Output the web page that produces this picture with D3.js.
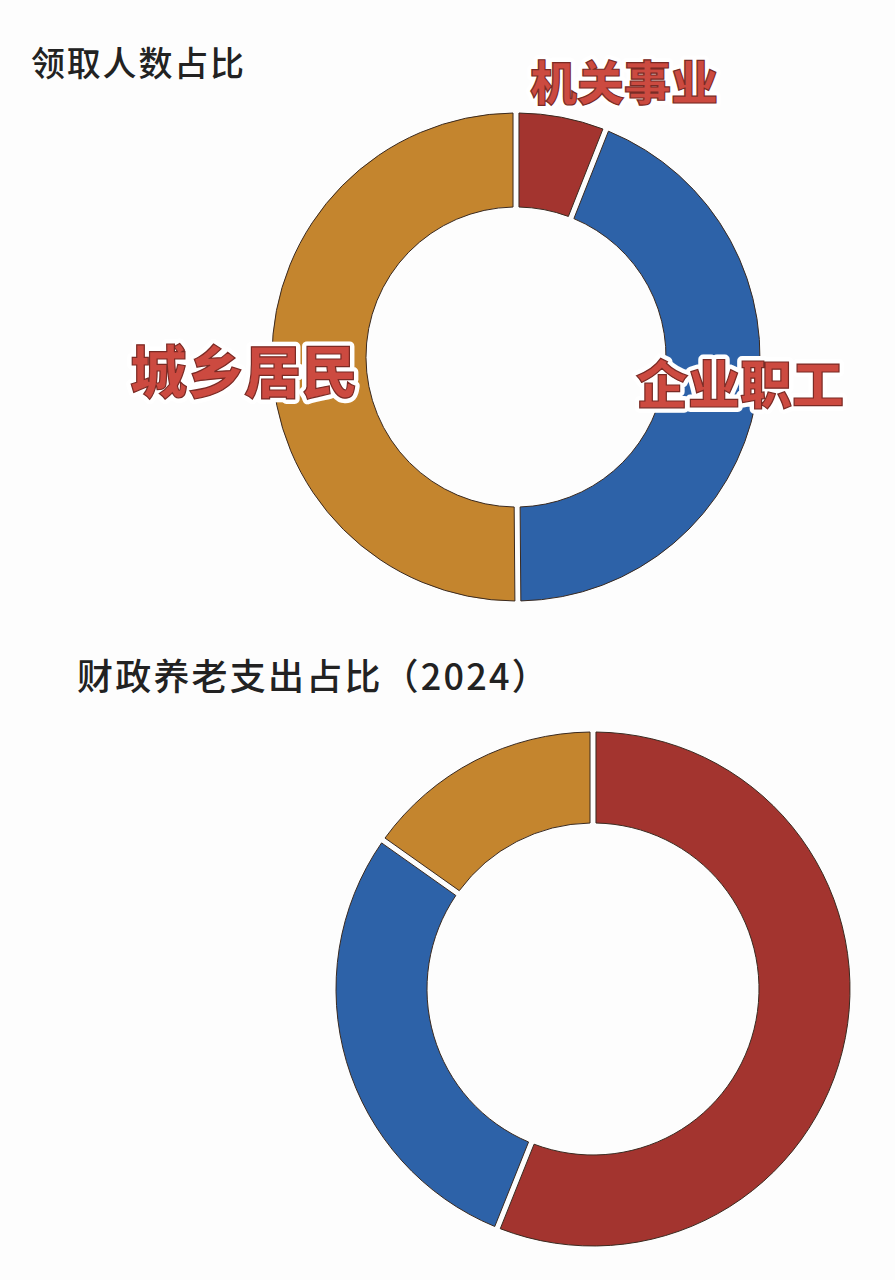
<!DOCTYPE html>
<html><head><meta charset="utf-8">
<script src="https://cdn.jsdelivr.net/npm/d3@7"></script>
<style>html,body{margin:0;padding:0;background:#fdfdfd;}svg{display:block;}</style>
</head><body>
<script>
const categories = ["机关事业", "企业职工", "城乡居民"];
const peopleShare = [5.7, 44.0, 50.3];          // 领取人数占比 (%)
const fiscalShare = [56.3, 28.7, 15.0];         // 财政养老支出占比 2024 (%)
const colors = ["#a3342f", "#2d62a8", "#c4852e"];
const titles = ["领取人数占比", "财政养老支出占比（2024）"];

const W = 895, H = 1280;
const svg = d3.select("body").append("svg").attr("width", W).attr("height", H);
svg.append("rect").attr("width", W).attr("height", H).attr("fill", "#fdfdfd");

const color = d3.scaleOrdinal().domain(categories).range(colors);
const pie = d3.pie().sort(null).value(d => d.v).padAngle(0.022);

function donut(values, cx, cy, rOuter, rInner) {
  const data = categories.map((c, i) => ({c, v: values[i]}));
  const arc = d3.arc().innerRadius(rInner).outerRadius(rOuter).padRadius(270);
  const g = svg.append("g").attr("transform", `translate(${cx},${cy})`);
  g.selectAll("path").data(pie(data)).join("path")
    .attr("d", arc)
    .attr("fill", d => color(d.data.c))
    .attr("stroke", "#3a2a20")
    .attr("stroke-width", 1);
}

donut(peopleShare, 516, 357, 244, 150);
donut(fiscalShare, 593, 989, 257, 166);

const font = "'Noto Sans CJK SC', 'Noto Sans', sans-serif";
svg.append("text").attr("x", 31).attr("y", 76).text(titles[0])
  .attr("font-family", font).attr("font-size", 34).attr("font-weight", 500)
  .attr("fill", "#222").attr("letter-spacing", 1.8);
svg.append("text").attr("x", 77).attr("y", 690).text(titles[1])
  .attr("font-family", font).attr("font-size", 36).attr("font-weight", 500)
  .attr("fill", "#222").attr("letter-spacing", 2.2);

const labels = [
  {t: categories[0], x: 624, y: 100, s: 47},
  {t: categories[1], x: 740, y: 404, s: 52},
  {t: categories[2], x: 244, y: 393, s: 57}
];
labels.forEach(l => {
  svg.append("text").attr("x", l.x).attr("y", l.y).text(l.t)
    .attr("text-anchor", "middle").attr("font-family", font).attr("font-weight", 900)
    .attr("font-size", l.s).attr("fill", "#fff").attr("stroke", "#fff")
    .attr("stroke-width", 10).attr("stroke-linejoin", "round");
  svg.append("text").attr("x", l.x).attr("y", l.y).text(l.t)
    .attr("text-anchor", "middle").attr("font-family", font).attr("font-weight", 900)
    .attr("font-size", l.s).attr("fill", "#cc4a40").attr("stroke", "#7a2a24")
    .attr("stroke-width", 1.2);
});
</script>
</body></html>
